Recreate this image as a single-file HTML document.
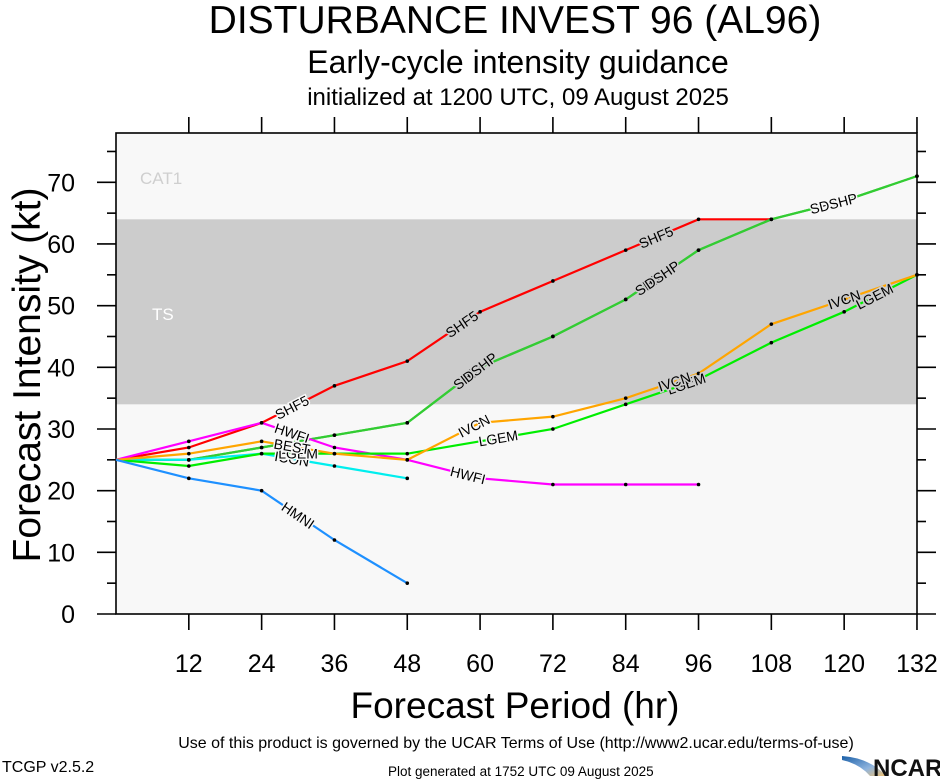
<!DOCTYPE html>
<html><head><meta charset="utf-8">
<style>
html,body{margin:0;padding:0;background:#fff;}
svg{display:block;font-family:"Liberation Sans",Arial,sans-serif;}
</style></head>
<body>
<svg id="s" width="940" height="780" viewBox="0 0 940 780" xmlns="http://www.w3.org/2000/svg">
<text x="515" y="33" font-size="39" text-anchor="middle">DISTURBANCE INVEST 96 (AL96)</text>
<text x="518" y="73" font-size="32" text-anchor="middle">Early-cycle intensity guidance</text>
<text x="518" y="105" font-size="24" text-anchor="middle">initialized at 1200 UTC, 09 August 2025</text>
<rect x="116" y="133" width="801" height="481" fill="#f8f8f8"/>
<rect x="116" y="219.3" width="801" height="185" fill="#cccccc"/>
<text x="140" y="184" font-size="17" fill="#cfcfcf">CAT1</text>
<text x="152" y="320" font-size="17" fill="#ffffff">TS</text>
<g id="ax" stroke="#000" stroke-width="1.6" fill="none"></g>
<g id="ln" fill="none" stroke-width="2.2"></g>
<g id="dt" fill="#000"></g>
<g id="lb" font-size="14" fill="#000" text-anchor="middle"></g>
<g id="tl" font-size="25" text-anchor="middle"></g>
<text transform="translate(40,375) rotate(-90)" font-size="39" text-anchor="middle">Forecast Intensity (kt)</text>
<text x="515" y="718" font-size="37" text-anchor="middle">Forecast Period (hr)</text>
<text x="516" y="748" font-size="16" text-anchor="middle">Use of this product is governed by the UCAR Terms of Use (http://www2.ucar.edu/terms-of-use)</text>
<text x="388" y="776" font-size="13.5">Plot generated at 1752 UTC   09 August 2025</text>
<text x="2" y="772" font-size="16">TCGP v2.5.2</text>
<defs><linearGradient id="g" x1="0" y1="0" x2="1" y2="1"><stop offset="0" stop-color="#1a5fa8"/><stop offset="0.6" stop-color="#8fb4de"/><stop offset="1" stop-color="#f0c070"/></linearGradient></defs>
<path d="M842 756 Q870 758 886 776 L870 776 Q860 764 842 760Z" fill="url(#g)"/>
<text x="873" y="776" font-size="24" font-weight="bold" fill="#111">NCAR</text>
</svg>
<script>
const NS="http://www.w3.org/2000/svg";
const X=h=>116+h*6.068, Y=k=>614-k*6.167;
function el(p,t,a,txt){const e=document.createElementNS(NS,t);for(const k in a)e.setAttribute(k,a[k]);if(txt)e.textContent=txt;document.getElementById(p).appendChild(e);return e;}
el("ax","rect",{x:116,y:133,width:801,height:481});
for(let h=12;h<=132;h+=12){el("ax","line",{x1:X(h),y1:614,x2:X(h),y2:630});el("ax","line",{x1:X(h),y1:133,x2:X(h),y2:117});el("tl","text",{x:X(h),y:672},String(h));}
for(let k=0;k<=75;k+=5){const big=k%10==0;el("ax","line",{x1:116,y1:Y(k),x2:big?97:107,y2:Y(k)});el("ax","line",{x1:917,y1:Y(k),x2:big?936:926,y2:Y(k)});if(big)el("tl","text",{x:75,y:Y(k)+9,"text-anchor":"end"},String(k));}
const SH=[[0,25],[12,25],[24,27],[36,29],[48,31],[60,40],[72,45],[84,51],[96,59],[108,64],[120,67],[132,71]];
const S=[
["#ff0000",[[0,25],[12,27],[24,31],[36,37],[48,41],[60,49],[72,54],[84,59],[96,64],[108,64]],[[29,"SHF5"],[57,"SHF5"],[89,"SHF5"]]],
["#33cc33",SH,[[58,"SHIP"],[88,"SHIP"],[117,"SHIP"]]],
["#33cc33",SH,[[60,"DSHP"],[90,"DSHP"],[119,"DSHP"]]],
["#ff00ff",[[0,25],[12,28],[24,31],[36,27],[48,25],[60,22],[72,21],[84,21],[96,21]],[[29,"HWFI"],[58,"HWFI"]]],
["#00eeee",[[0,25],[12,25],[24,26],[36,24],[48,22]],[[29,"ICON"]]],
["#00ee00",[[0,25],[12,24],[24,26],[36,26],[48,26],[60,28],[72,30],[84,34],[96,38],[108,44],[120,49],[132,55]],[[30,"LGEM"],[63,"LGEM"],[94,"LGEM"],[125,"LGEM"]]],
["#ffa500",[[0,25],[12,26],[24,28],[36,26],[48,25],[60,31],[72,32],[84,35],[96,39],[108,47],[120,51],[132,55]],[[29,"BEST"],[59,"IVCN"],[92,"IVCN"],[120,"IVCN"]]],
["#1e90ff",[[0,25],[12,22],[24,20],[36,12],[48,5]],[[30,"HMNI"]]]
];
for(const [c,p] of S) el("ln","polyline",{stroke:c,points:p.map(q=>X(q[0])+","+Y(q[1])).join(" ")});
for(const [c,p,labs] of S){
 p.forEach((q,i)=>{if(i>0)el("dt","circle",{cx:X(q[0]),cy:Y(q[1]),r:1.8});});
 for(const [h,t] of labs){let i=0;while(i<p.length-2&&p[i+1][0]<h)i++;const a=p[i],b=p[i+1];const f=(h-a[0])/(b[0]-a[0]);
  const x1=X(a[0]),y1=Y(a[1]),x2=X(b[0]),y2=Y(b[1]);const ang=Math.atan2(y2-y1,x2-x1)*180/Math.PI;const mx=x1+(x2-x1)*f,my=y1+(y2-y1)*f;
  const bg=(my>219&&my<404)?"#cccccc":"#f8f8f8";
  el("lb","text",{transform:`translate(${mx},${my}) rotate(${ang})`,x:0,y:5,stroke:bg,"stroke-width":3,"paint-order":"stroke"},t);}
}
</script>
</body></html>
